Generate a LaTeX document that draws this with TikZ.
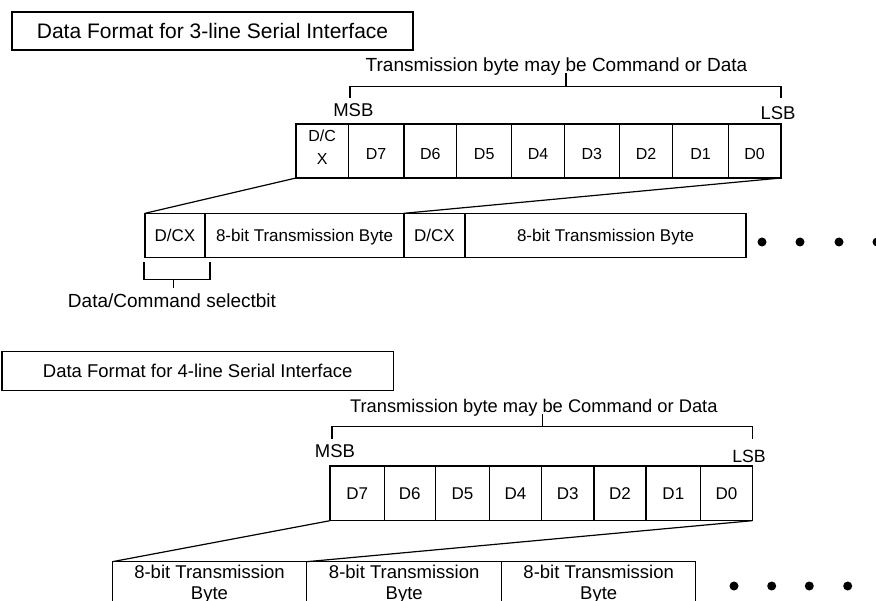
\documentclass[tikz,border=0pt]{standalone}
\usepackage{fontspec}
\setmainfont{Liberation Sans}
\newcommand{\fsz}[1]{\fontsize{#1}{#1}\selectfont}
\begin{document}
\begin{tikzpicture}[x=1pt,y=-1pt,
  lw/.style={line width=1.2pt},
  cellbox/.style={draw, line width=1.2pt, inner sep=0pt, outer sep=0pt, anchor=north west},
  lbl/.style={inner sep=0pt, outer sep=0pt, anchor=base},
  dotnode/.style={circle, fill=black, inner sep=0pt, minimum size=9pt},
  brk/.style={line width=1.2pt}]
\useasboundingbox (0,0) rectangle (876,601);
\fill[white] (0,0) rectangle (876,601);
\clip (0,0) rectangle (876,601);

% ---------- 3-line section ----------
\node[cellbox, anchor=center, minimum width=401pt, minimum height=38pt, font=\fsz{21}] (title1) at (212.5,31) {Data Format for 3-line Serial Interface};

\coordinate (tbL) at (350,98);
\coordinate (tbR) at (781,98);
\coordinate (tbM) at (566,86.7);
\coordinate (tbT) at (566,73.5);
\draw[brk] (tbL) |- (tbM) -| (tbR);
\draw[brk] (tbM) -- (tbT);
\node[lbl, font=\fsz{19}] (tx1) at (556.5,71.7) {Transmission byte may be Command or Data};
\node[lbl, font=\fsz{18.5}] (msb1) at (353.3,116.7) {MSB};
\node[lbl, font=\fsz{18.5}] (lsb1) at (778,120) {LSB};

\node[cellbox, minimum width=52.3pt, minimum height=54pt] (c0) at (296,124) {};
\node[lbl, font=\fsz{16}] (dc1) at (322.2,141.7) {D/C};
\node[lbl, font=\fsz{16}] (dc2) at (322.2,165) {X};
\foreach \a/\b/\t [count=\i] in {348.3/404/D7, 404/456.7/D6, 456.7/511.7/D5, 511.7/564.3/D4, 564.3/619.3/D3, 619.3/672.7/D2, 672.7/728.3/D1, 728.3/781/D0} {
  \node[cellbox, minimum width={\b pt-\a pt}, minimum height=54pt] (c\i) at (\a,124) {};
  \node[lbl, font=\fsz{16}] (ct\i) at ({(\a+\b)/2},160) {\t};
}

\node[cellbox, minimum width=60pt, minimum height=44pt] (r0) at (145,213.3) {};
\node[cellbox, minimum width=199pt, minimum height=44pt] (r1) at (205,213.3) {};
\node[cellbox, minimum width=61pt, minimum height=44pt] (r2) at (404,213.3) {};
\node[cellbox, minimum width=281pt, minimum height=44pt] (r3) at (465,213.3) {};
\node[lbl, font=\fsz{17}] (rt0) at (175,241.7) {D/CX};
\node[lbl, font=\fsz{17}] (rt1) at (304.5,241.7) {8-bit Transmission Byte};
\node[lbl, font=\fsz{17}] (rt2) at (434.5,241.7) {D/CX};
\node[lbl, font=\fsz{17}] (rt3) at (605.5,241.7) {8-bit Transmission Byte};

\draw[lw] (c0.south west) -- (r0.north west);
\draw[lw] (c8.south east) -- (r2.north west);

\coordinate (sbL) at (144,262);
\coordinate (sbR) at (210,262);
\coordinate (sbM) at (173.3,279.3);
\coordinate (sbB) at (173.3,288.3);
\draw[brk] (sbL) |- (sbM) -| (sbR);
\draw[brk] (sbM) -- (sbB);
\node[lbl, font=\fsz{19}] (sel) at (172,308) {Data/Command selectbit};

\foreach \x [count=\i] in {762,800,839,877}
  \node[dotnode] (da\i) at (\x,242) {};

% ---------- 4-line section ----------
\node[cellbox, anchor=center, minimum width=391.3pt, minimum height=39pt, font=\fsz{18.5}] (title2) at (197.7,371.2) {Data Format for 4-line Serial Interface};

\coordinate (bbL) at (332,439);
\coordinate (bbR) at (752.5,439);
\coordinate (bbM) at (542.3,426.7);
\coordinate (bbT) at (542.3,414);
\draw[brk] (bbL) |- (bbM) -| (bbR);
\draw[brk] (bbM) -- (bbT);
\node[lbl, font=\fsz{18.3}] (tx2) at (533.8,412.3) {Transmission byte may be Command or Data};
\node[lbl, font=\fsz{18.5}] (msb2) at (335,457.3) {MSB};
\node[lbl, font=\fsz{17.7}] (lsb2) at (749,462.7) {LSB};

\foreach \a/\b/\t [count=\i from 0] in {330/384.3/D7, 384.3/435.3/D6, 435.3/489.7/D5, 489.7/541.3/D4, 541.3/594/D3, 594/646/D2, 646/700.7/D1, 700.7/752.3/D0} {
  \node[cellbox, minimum width={\b pt-\a pt}, minimum height=54.7pt] (b\i) at (\a,466) {};
  \node[lbl, font=\fsz{17}] (bt\i) at ({(\a+\b)/2},500) {\t};
}

\foreach \a/\b [count=\i from 0] in {112.3/306.7, 306.7/501.7, 501.7/695.7} {
  \node[cellbox, minimum width={\b pt-\a pt}, minimum height=70pt] (s\i) at (\a,561.7) {};
  \node[lbl, font=\fsz{18.5}] (sa\i) at ({(\a+\b)/2},578.3) {8-bit Transmission};
  \node[lbl, font=\fsz{18.5}] (sb\i) at ({(\a+\b)/2},599.5) {Byte};
}

\draw[lw] (b0.south west) -- (s0.north west);
\draw[lw] (b7.south east) -- (s1.north west);

\foreach \x [count=\i] in {734,771.7,809.3,847.7}
  \node[dotnode] (db\i) at (\x,586) {};
\end{tikzpicture}
\end{document}
